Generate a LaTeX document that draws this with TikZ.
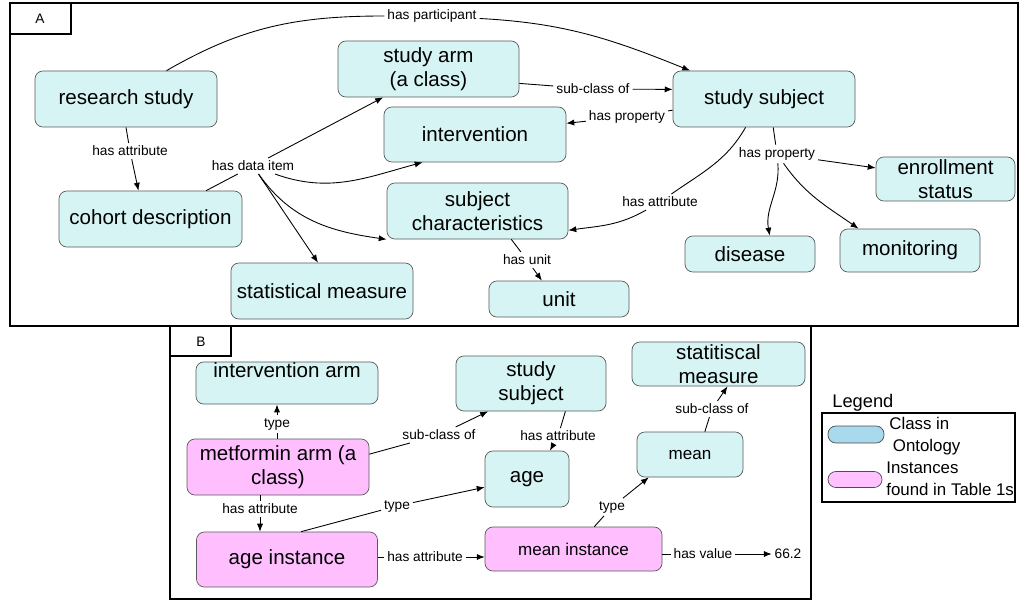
\documentclass[tikz,border=0pt]{standalone}
\usepackage{fontspec}
\setmainfont{Liberation Sans}
\usetikzlibrary{arrows.meta}
\definecolor{clsfill}{HTML}{D6F4F4}
\definecolor{insfill}{HTML}{FFBFFF}
\definecolor{legblue}{HTML}{A9D9EC}
\definecolor{legpink}{HTML}{FFC2FF}
\begin{document}
\begin{tikzpicture}[x=0.02cm,y=-0.02cm,
  cls/.style={draw=black!65,fill=clsfill,rounded corners=4.5pt,align=center,inner sep=0pt,font=\fontsize{11.7}{13.5}\selectfont},
  ins/.style={cls,fill=insfill},
  sz/.style 2 args={minimum width=#1*0.02cm,minimum height=#2*0.02cm},
  small/.style={font=\fontsize{9.7}{11}\selectfont},
  lbl/.style={inner sep=1.5pt,font=\fontsize{7.8}{9}\selectfont},
  con/.style={line width=0.5pt},
  arr/.style={con,-{Latex[length=4.5pt,width=3.5pt]}}]
\useasboundingbox (0,0) rectangle (1020,601);
\draw[line width=0.7pt] (10,3) rectangle (1018,326);
\draw[line width=0.6pt] (10,3) rectangle (71,34);
\node[lbl] (pa) at (40,19) {A};
\draw[line width=0.7pt] (170,326) rectangle (811,599);
\draw[line width=0.6pt] (170,326) rectangle (231,356);
\node[lbl] (pb) at (201,342) {B};

\node[cls,sz={182}{56}] (rs) at (126,99) {research study};
\node[cls,sz={181}{56}] (sa) at (428.5,69) {study arm\\(a class)};
\node[cls,sz={182}{55}] (iv) at (475,134.5) {intervention};
\node[cls,sz={182}{56}] (ss) at (764,99) {study subject};
\node[cls,sz={183}{56}] (cd) at (150.5,219) {cohort description};
\node[cls,sz={181}{56}] (sc) at (477.5,211) {subject\\characteristics};
\node[cls,sz={139}{44}] (es) at (945.5,179) {enrollment\\status};
\node[cls,sz={130}{36}] (ds) at (750,254) {disease};
\node[cls,sz={140}{43}] (mo) at (910,250.5) {monitoring};
\node[cls,sz={182}{56}] (sm) at (322,291) {statistical measure};
\node[cls,sz={140}{36}] (un) at (559,299) {unit};

\node[lbl] (lp1) at (432,16) {has participant};
\node[lbl] (la1) at (130,151) {has attribute};
\node[lbl] (ld) at (253,166) {has data item};
\node[lbl] (lsc) at (593,89) {sub-class of};
\node[lbl] (lhp) at (627,117) {has property};
\node[lbl] (lha) at (660,202) {has attribute};
\node[lbl] (lhp2) at (777,154) {has property};
\node[lbl] (lhu) at (527,260) {has unit};

\draw[con] (rs.35) to[out=30,in=180] (lp1);
\draw[arr] (lp1) to[out=-3,in=158] (ss.159);
\draw[con] (rs.south) -- (la1);
\draw[arr] (la1) -- (cd.113);
\draw[con] (cd.27) -- (ld);
\draw[arr] (ld) -- (sa.-148);
\draw[arr] (ld) to[out=-20,in=195] (iv.-152);
\draw[arr] (ld) to[out=-55,in=172] (sc.south west);
\draw[arr] (ld) -- (sm.98);
\draw[con] (sa.-9) -- (lsc);
\draw[arr] (lsc) -- (ss.174);
\draw[con] (ss.187) -- (lhp);
\draw[arr] (lhp) -- (iv.7);
\draw[con] (ss.-123) to[out=-120,in=35] (lha);
\draw[arr] (lha) to[out=-150,in=8] (sc.-12);
\draw[con] (ss.-72) -- (lhp2);
\draw[arr] (lhp2) -- (es.171);
\draw[arr] (lhp2) to[out=-85,in=100] (ds.43);
\draw[arr] (lhp2) to[out=-55,in=145] (mo.157);
\draw[con] (sc.-40) -- (lhu);
\draw[arr] (lhu) -- (un.133);

\node[cls,sz={182}{40},text height=9pt,text depth=15pt] (ia) at (287,383) {intervention arm};
\node[cls,sz={150}{55}] (bs) at (531,383.5) {study\\subject};
\node[cls,sz={173}{44}] (st) at (718.5,364) {statitiscal\\measure};
\node[ins,sz={182}{56}] (ma) at (278,467) {metformin arm (a\\class)};
\node[cls,sz={84}{56}] (ag) at (527,479) {age};
\node[cls,small,sz={106}{45}] (mn) at (690,454.5) {mean};
\node[ins,sz={181}{55}] (ai) at (287,559.5) {age instance};
\node[ins,small,sz={177}{44}] (mi) at (573.5,549) {mean instance};
\node[lbl] (v662) at (788,554) {66.2};

\node[lbl] (lt1) at (277,424) {type};
\node[lbl] (lsc2) at (439,435) {sub-class of};
\node[lbl] (lha2) at (558,436) {has attribute};
\node[lbl] (lha3) at (260,509) {has attribute};
\node[lbl] (lt2) at (397,506) {type};
\node[lbl] (lha4) at (425,557) {has attribute};
\node[lbl] (lt3) at (612,507) {type};
\node[lbl] (lsc3) at (712,409) {sub-class of};
\node[lbl] (lhv) at (703,554) {has value};

\draw[con] (ma.north -| lt1) -- (lt1);
\draw[arr] (lt1) -- (lt1 |- ia.south);
\draw[con] (ma.8) -- (lsc2);
\draw[arr] (lsc2) -- (bs.-147);
\draw[con] (bs.-39) -- (lha2);
\draw[arr] (lha2) -- (ag.51);
\draw[con] (ma.south -| lha3) -- (lha3);
\draw[arr] (lha3) -- (lha3 |- ai.north);
\draw[con] (ai.63) -- (lt2);
\draw[arr] (lt2) -- (ag.191);
\draw[con] (ai.east |- lha4) -- (lha4);
\draw[arr] (lha4) -- (lha4 -| mi.west);
\draw[con] (mi.47) -- (lt3);
\draw[arr] (lt3) -- (mn.-151);
\draw[con] (mn.57) -- (lsc3);
\draw[arr] (lsc3) -- (st.-68);
\draw[con] (mi.east |- lhv) -- (lhv);
\draw[arr] (lhv) -- (v662);

\node[anchor=west,inner sep=0pt,font=\fontsize{10.4}{12}\selectfont] (lg) at (832,403) {Legend};
\draw[line width=0.6pt] (822,413) rectangle (1015,502);
\node[draw=black!70,fill=legblue,rounded corners=4.5pt,sz={56}{17}] (kc) at (856,434.5) {};
\node[draw=black!70,fill=legpink,rounded corners=4.5pt,sz={54}{16}] (ki) at (855,479.5) {};
\node[anchor=west,align=left,inner sep=0pt,font=\fontsize{9.6}{12.3}\selectfont] (kct) at (889,436) {Class in\\\hspace{2pt}Ontology};
\node[anchor=west,align=left,inner sep=0pt,font=\fontsize{9.6}{12.8}\selectfont] (kit) at (886,479) {Instances\\found in Table 1s};
\end{tikzpicture}
\end{document}
